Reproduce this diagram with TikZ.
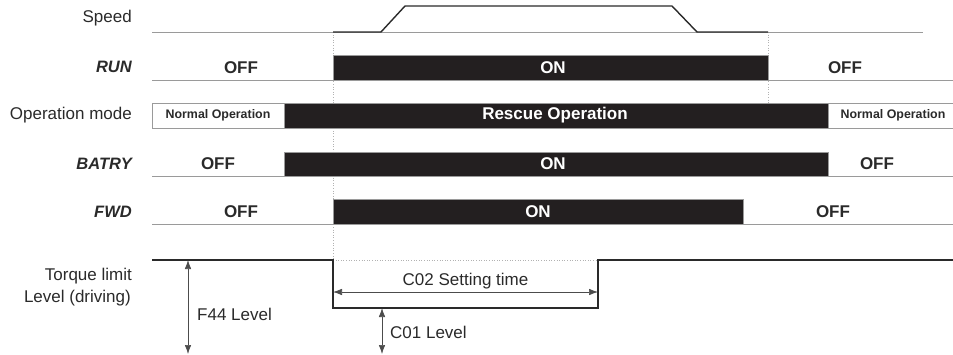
\documentclass[tikz,border=0pt]{standalone}
\usepackage{fontspec}
\setmainfont{Liberation Sans}
\usetikzlibrary{arrows.meta}
\definecolor{barfill}{HTML}{231F20}
\definecolor{baseline}{HTML}{9A9A9A}
\definecolor{txt}{HTML}{2A2A2A}
\begin{document}
\begin{tikzpicture}[x=1pt,y=-1pt,
  bar/.style={draw=baseline, fill=barfill, line width=0.8pt, inner sep=0pt, anchor=north west},
  wbox/.style={draw=baseline, fill=white, line width=0.8pt, inner sep=0pt, anchor=north west},
  base/.style={draw=baseline, line width=0.9pt},
  sig/.style={draw=txt, line width=1.5pt},
  guide/.style={draw=black!30, dotted, line width=0.6pt},
  lbl/.style={font=\fontsize{17}{20}\selectfont, anchor=east, inner sep=0pt, text=txt},
  ilbl/.style={lbl, font=\fontsize{16.5}{20}\selectfont\bfseries\itshape},
  st/.style={font=\fontsize{17}{20}\selectfont\bfseries, inner sep=0pt, text=txt},
  stw/.style={st, text=white},
  small/.style={font=\fontsize{12.4}{15}\selectfont\bfseries, inner sep=0pt, text=txt},
  note/.style={font=\fontsize{17}{20}\selectfont, inner sep=0pt, text=txt},
  dim/.style={draw=black!70, line width=0.7pt, {Latex[length=9pt,width=6.5pt]}-{Latex[length=9pt,width=6.5pt]}},
]
\useasboundingbox (0,0) rectangle (953,354);

% ---- guides (behind) ----
\coordinate (g1t) at (333,32);
\coordinate (g1b) at (333,260);
\coordinate (g2t) at (768,32);
\coordinate (g2b) at (768,103);
\coordinate (g3r) at (598,260);
\draw[guide] (g1t) -- (g1b);
\draw[guide] (g2t) -- (g2b);
\draw[guide] (g1b) -- (g3r);

% ---- row labels ----
\node[lbl]  (lspeed) at (132,18)  {Speed};
\node[ilbl] (lrun)   at (132,67)  {RUN};
\node[lbl]  (lmode)  at (132,115) {Operation mode};
\node[ilbl] (lbat)   at (132,164) {BATRY};
\node[ilbl] (lfwd)   at (132,212) {FWD};
\node[lbl]  (ltq1)   at (132,276) {Torque limit};
\node[lbl]  (ltq2)   at (131,298) {Level (driving)};

% ---- speed ----
\coordinate (sb0) at (152,32);
\coordinate (sb1) at (923,32);
\draw[base] (sb0) -- (sb1);
\coordinate (s0) at (333,32);
\coordinate (s1) at (381,32);
\coordinate (s2) at (405,6);
\coordinate (s3) at (672,6);
\coordinate (s4) at (697,32);
\coordinate (s5) at (768,32);
\draw[sig, line width=1.4pt] (s0) -- (s1) -- (s2) -- (s3) -- (s4) -- (s5);

% ---- RUN ----
\coordinate (rb0) at (152,80);
\coordinate (rb1) at (953,80);
\draw[base] (rb0) -- (rb1);
\node[bar, minimum width=435pt, minimum height=25pt] (runbar) at (333,55) {};
\node[st]  (runoff1) at (241,67.5) {OFF};
\node[stw] (runon)   at (553,67.5) {ON};
\node[st]  (runoff2) at (845,67.5) {OFF};

% ---- Operation mode ----
\coordinate (mb0) at (152,103);
\coordinate (mb1) at (953,103);
\coordinate (mb2) at (152,128);
\coordinate (mb3) at (953,128);
\draw[base] (mb0) -- (mb1);
\draw[base] (mb2) -- (mb3);
\node[wbox, minimum width=132pt, minimum height=25pt] (norm1) at (152,103) {};
\node[bar,  minimum width=544pt, minimum height=25pt] (rescue) at (284,103) {};
\node[wbox, minimum width=130pt, minimum height=25pt] (norm2) at (828,103) {};
\node[small] (tn1) at (218,115.5) {Normal Operation};
\node[stw]   (tr)  at (555,115.5) {Rescue Operation};
\node[small] (tn2) at (893,115.5) {Normal Operation};

% ---- BATRY ----
\coordinate (bb0) at (152,176);
\coordinate (bb1) at (953,176);
\draw[base] (bb0) -- (bb1);
\node[bar, minimum width=544pt, minimum height=24pt] (batbar) at (284,152) {};
\node[st]  (batoff1) at (218,164) {OFF};
\node[stw] (baton)   at (553,164) {ON};
\node[st]  (batoff2) at (877,164) {OFF};

% ---- FWD ----
\coordinate (fb0) at (152,224);
\coordinate (fb1) at (953,224);
\draw[base] (fb0) -- (fb1);
\node[bar, minimum width=410pt, minimum height=25pt] (fwdbar) at (333,199) {};
\node[st]  (fwdoff1) at (241,211.5) {OFF};
\node[stw] (fwdon)   at (538,211.5) {ON};
\node[st]  (fwdoff2) at (833,211.5) {OFF};

% ---- Torque limit ----
\coordinate (t0) at (152,260);
\coordinate (t1) at (333,260);
\coordinate (t2) at (333,308);
\coordinate (t3) at (598,308);
\coordinate (t4) at (598,260);
\coordinate (t5) at (953,260);
\draw[sig] (t0) -- (t1) -- (t2) -- (t3) -- (t4) -- (t5);

% dimension arrows
\coordinate (c02a) at (333,292);
\coordinate (c02b) at (598,292);
\draw[dim] (c02a) -- (c02b);
\node[note] (c02) at (465.5,281) {C02 Setting time};

\coordinate (f44a) at (188,260);
\coordinate (f44b) at (188,354);
\draw[dim] (f44a) -- (f44b);
\node[note, anchor=west] (f44) at (197,314) {F44 Level};

\coordinate (c01a) at (382,308);
\coordinate (c01b) at (382,354);
\draw[dim] (c01a) -- (c01b);
\node[note, anchor=west] (c01) at (390,332) {C01 Level};
\end{tikzpicture}
\end{document}
